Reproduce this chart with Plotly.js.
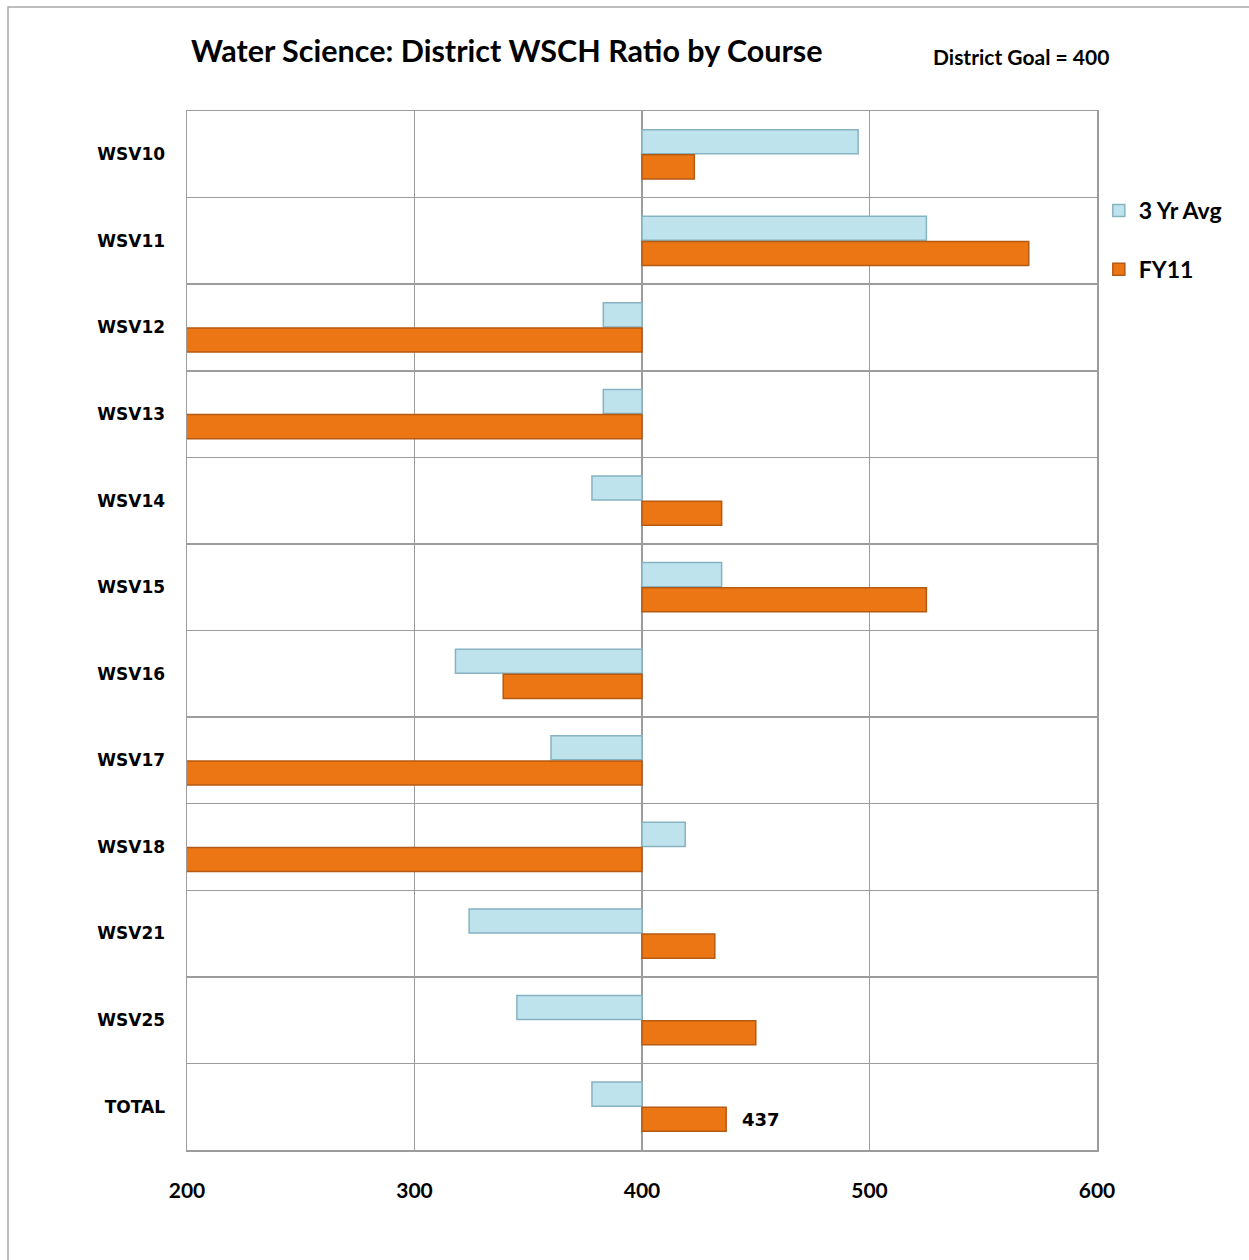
<!DOCTYPE html>
<html>
<head>
<meta charset="utf-8">
<script src="https://cdn.plot.ly/plotly-3.0.1.min.js"></script>
<style>
html,body{margin:0;padding:0;background:#fff;}
#chart{width:1249px;height:1260px;}
</style>
</head>
<body>
<div id="chart"></div>
<script>
const courses = ["WSV10","WSV11","WSV12","WSV13","WSV14","WSV15","WSV16","WSV17","WSV18","WSV21","WSV25","TOTAL"];
const avg3yr = [495, 525, 383, 383, 378, 435, 318, 360, 419, 324, 345, 378];
const fy11   = [423, 570, 0, 0, 435, 525, 339, 0, 0, 432, 450, 437];
const goal = 400;
const xTicks = [200, 300, 400, 500, 600];

const FONT = "Lato, 'Open Sans', 'DejaVu Sans', sans-serif";
const FONT2 = "'DejaVu Sans', Verdana, sans-serif";

const traces = [
  {
    type: "bar", orientation: "h", name: "3 Yr Avg",
    y: courses, x: avg3yr.map(v => v - goal), base: goal,
    legendgroup: "a",
    marker: {color: "#bfe3ec", line: {color: "#86b3c2", width: 1.5}},
    hoverinfo: "skip"
  },
  {
    type: "bar", orientation: "h", name: "FY11",
    y: courses, x: fy11.map(v => v - goal), base: goal,
    legendgroup: "b",
    marker: {color: "#ec7614", line: {color: "#b55a12", width: 1.5}},
    hoverinfo: "skip"
  }
];

const lastIdx = courses.length - 1;

const layout = {
  width: 1249, height: 1260,
  margin: {l: 187, r: 152, t: 111, b: 110},
  paper_bgcolor: "#ffffff", plot_bgcolor: "#ffffff",
  font: {family: FONT, color: "#000"},
  barmode: "group", bargap: 0.42, bargroupgap: 0.04,
  showlegend: true,
  legend: {
    x: 1.002, xanchor: "left", y: 0.925, yanchor: "top",
    traceorder: "grouped", tracegroupgap: 26,
    font: {family: FONT, size: 23, color: "#000", weight: "bold"},
    itemwidth: 30
  },
  xaxis: {
    range: [200, 600], tickvals: xTicks, ticktext: xTicks.map(String),
    showgrid: true, gridcolor: "#9c9c9c", gridwidth: 1.5,
    showline: true, linecolor: "#9c9c9c", linewidth: 1.5, mirror: true,
    zeroline: false, ticks: "", ticklabelstandoff: 21,
    tickfont: {family: FONT, size: 21, color: "#000", weight: "bold"},
    fixedrange: true
  },
  yaxis: {
    type: "category", autorange: "reversed", tickson: "boundaries",
    showgrid: true, gridcolor: "#9c9c9c", gridwidth: 1.5,
    showline: true, linecolor: "#9c9c9c", linewidth: 1.5, mirror: true,
    zeroline: false, ticks: "", ticklabelstandoff: 17,
    tickfont: {family: FONT2, size: 17, color: "#000", weight: "bold"},
    fixedrange: true
  },
  annotations: [
    {text: "Water Science: District WSCH Ratio by Course", xref: "paper", yref: "paper",
     x: (189 - 187) / 910, y: (1150 - 50) / 1039, xanchor: "left", yanchor: "middle",
     showarrow: false, font: {family: FONT, size: 30.5, weight: "bold", color: "#000"}},
    {text: "District Goal = " + goal, xref: "paper", yref: "paper",
     x: (931 - 187) / 910, y: (1150 - 56) / 1039, xanchor: "left", yanchor: "middle",
     showarrow: false, font: {family: FONT, size: 21, weight: "bold", color: "#000"}},
    {text: String(fy11[lastIdx]), xref: "x", yref: "y",
     x: fy11[lastIdx], y: courses[lastIdx], xanchor: "left", yanchor: "middle",
     xshift: 14, yshift: -13,
     showarrow: false, font: {family: FONT2, size: 18, weight: "bold", color: "#000"}}
  ],
  shapes: [
    {type: "rect", xref: "paper", yref: "paper",
     x0: (8 - 187) / 910, x1: (1270 - 187) / 910,
     y0: (1150 - 1275) / 1039, y1: (1150 - 7) / 1039,
     line: {color: "#a8a8a8", width: 1.5}, fillcolor: "rgba(0,0,0,0)", layer: "below"}
  ]
};

Plotly.newPlot("chart", traces, layout, {displayModeBar: false, staticPlot: true});
</script>
</body>
</html>
